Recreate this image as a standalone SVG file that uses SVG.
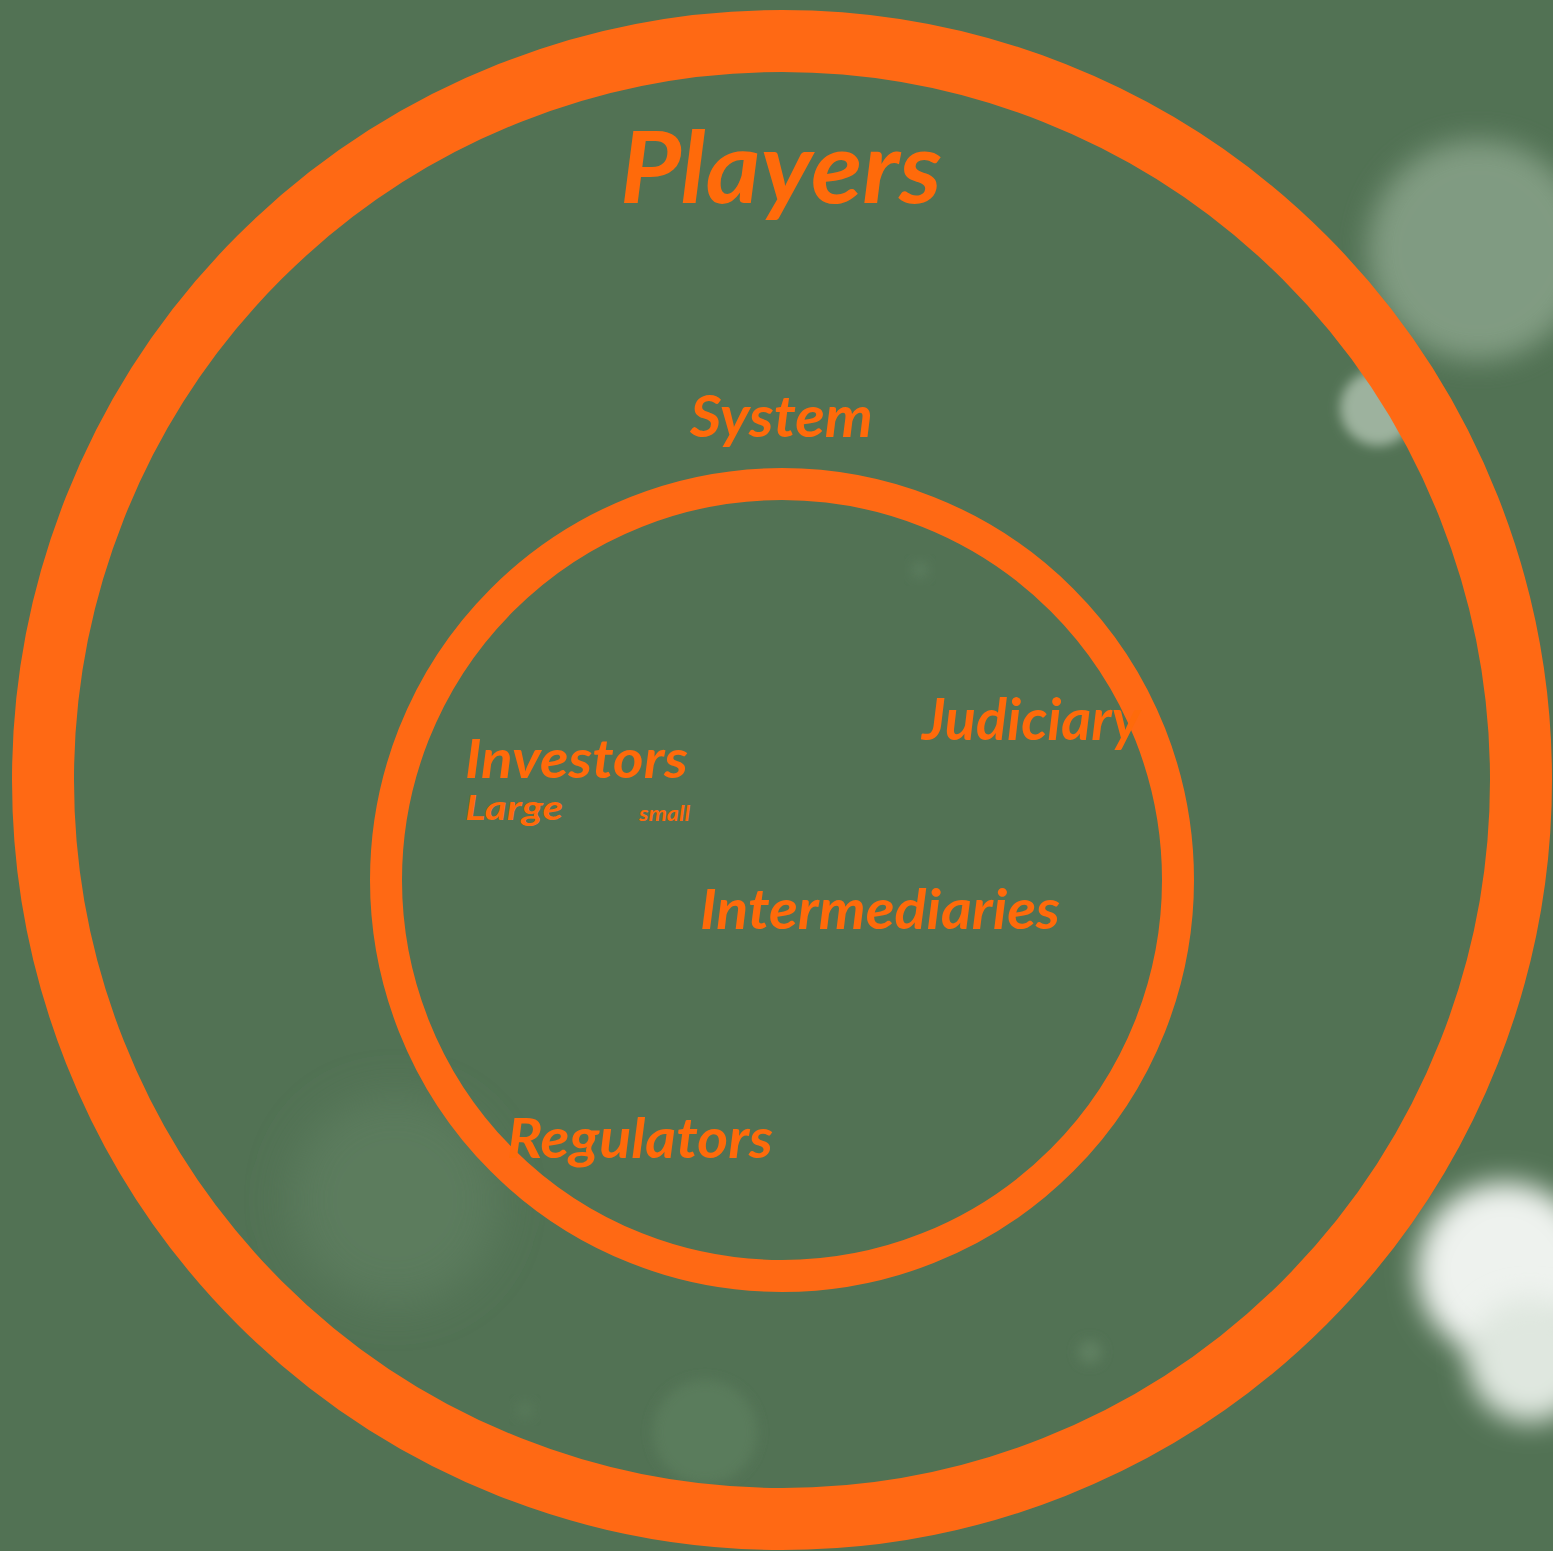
<svg xmlns="http://www.w3.org/2000/svg" width="1553" height="1551" viewBox="0 0 1553 1551">
<style>
.lbl{font-family:Lato,"Open Sans","Liberation Sans",sans-serif;font-style:italic;font-weight:bold;fill:#FF6A0A}
.ring{fill:none;stroke:#FF6914}
</style>
<defs>
<filter id="b1" x="-50%" y="-50%" width="200%" height="200%"><feGaussianBlur stdDeviation="14"/></filter>
<filter id="b2" x="-50%" y="-50%" width="200%" height="200%"><feGaussianBlur stdDeviation="6"/></filter>
<filter id="b3" x="-50%" y="-50%" width="200%" height="200%"><feGaussianBlur stdDeviation="22"/></filter>
</defs>
<rect width="1553" height="1551" fill="#527254"/>
<g id="bokeh">
<circle cx="1478" cy="250" r="110" fill="#86a087" opacity="0.9" filter="url(#b1)"/>
<circle cx="1378" cy="408" r="38" fill="#9db29e" filter="url(#b2)"/>
<circle cx="1505" cy="1270" r="88" fill="#eef2ee" filter="url(#b1)"/>
<circle cx="1530" cy="1360" r="62" fill="#dfe7df" filter="url(#b1)"/>
<circle cx="395" cy="1200" r="105" fill="#5b7c5d" filter="url(#b3)"/>
<circle cx="705" cy="1432" r="52" fill="#5a7b5c" filter="url(#b2)"/>
<circle cx="1090" cy="1352" r="12" fill="#5e7f60" filter="url(#b2)"/>
<circle cx="920" cy="570" r="8" fill="#5c7d5e" filter="url(#b2)"/>
<circle cx="525" cy="1410" r="8" fill="#58795a" filter="url(#b2)"/>
</g>
<g id="outer-ring"><circle class="ring" cx="782" cy="780" r="739" stroke-width="62"/></g>
<g id="inner-ring"><circle class="ring" cx="782" cy="880" r="396" stroke-width="32"/></g>
<g id="players"><text class="lbl" x="620" y="203" font-size="100" textLength="322" lengthAdjust="spacingAndGlyphs">Players</text></g>
<g id="system"><text class="lbl" x="690" y="437" font-size="58" textLength="183" lengthAdjust="spacingAndGlyphs">System</text></g>
<g id="judiciary"><text class="lbl" x="922" y="740" font-size="58" textLength="218" lengthAdjust="spacingAndGlyphs">Judiciary</text></g>
<g id="investors"><text class="lbl" x="465" y="778" font-size="54" textLength="223" lengthAdjust="spacingAndGlyphs">Investors</text></g>
<g id="large"><text class="lbl" x="465" y="820" font-size="35" textLength="98" lengthAdjust="spacingAndGlyphs">Large</text></g>
<g id="small"><text class="lbl" x="639" y="821" font-size="21" textLength="51" lengthAdjust="spacingAndGlyphs">small</text></g>
<g id="intermediaries"><text class="lbl" x="700" y="929" font-size="56" textLength="360" lengthAdjust="spacingAndGlyphs">Intermediaries</text></g>
<g id="regulators"><text class="lbl" x="507" y="1158" font-size="56" textLength="266" lengthAdjust="spacingAndGlyphs">Regulators</text></g>
<g id="connectors"/>
</svg>
